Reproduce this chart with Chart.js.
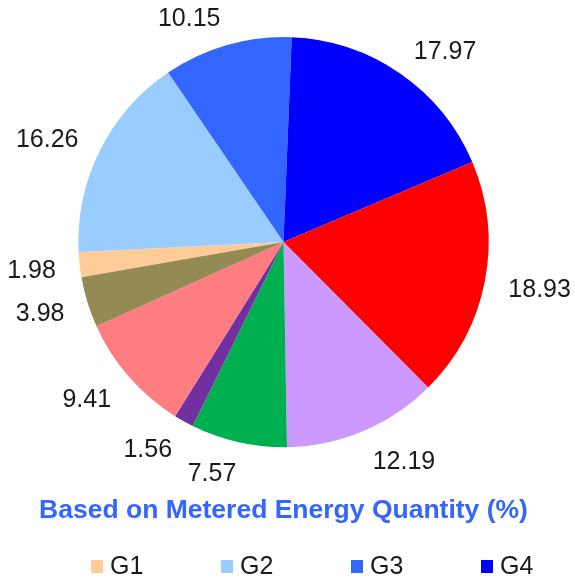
<!DOCTYPE html>
<html>
<head>
<meta charset="utf-8">
<title>Metered Energy Quantity</title>
<script src="https://cdn.jsdelivr.net/npm/chart.js@4.4.0/dist/chart.umd.min.js"></script>
<style>
  html, body { margin: 0; padding: 0; background: #fff; }
</style>
</head>
<body>
<canvas id="chart" width="575" height="586"></canvas>
<script>
const groups = ['G1', 'G2', 'G3', 'G4', 'G5', 'G6', 'G7', 'G8', 'G9', 'G10']
const energyShare = [1.98, 16.26, 10.15, 17.97, 18.93, 12.19, 7.57, 1.56, 9.41, 3.98]
const sliceColors = ['#FFCC99', '#99CCFF', '#3366FF', '#0000FF', '#FF0000', '#CC99FF', '#00B050', '#7030A0', '#FF7C80', '#948A54']
const legendGroups = ['G1', 'G2', 'G3', 'G4']
const chartTitle = 'Based on Metered Energy Quantity (%)'

const FONT = "'Liberation Sans', Arial, sans-serif"

// Value labels sit just outside each slice, pushed sideways by half their width
const outsideLabels = {
  id: 'outsideLabels',
  afterDatasetsDraw(chart) {
    const ctx = chart.ctx
    const meta = chart.getDatasetMeta(0)
    const values = chart.data.datasets[0].data
    ctx.save()
    ctx.font = `25px ${FONT}`
    ctx.fillStyle = '#1a1a1a'
    ctx.textAlign = 'center'
    ctx.textBaseline = 'middle'
    meta.data.forEach((arc, i) => {
      const { x, y, startAngle, endAngle, outerRadius } =
        arc.getProps(['x', 'y', 'startAngle', 'endAngle', 'outerRadius'], true)
      const mid = (startAngle + endAngle) / 2
      const text = values[i].toFixed(2)
      const w = ctx.measureText(text).width
      const push = Math.max(-1, Math.min(1, Math.cos(mid) * 4))
      const lx = x + (outerRadius + 24) * Math.cos(mid) + push * w / 2
      const ly = y + (outerRadius + 30) * Math.sin(mid) + 3
      ctx.fillText(text, lx, ly)
    })
    ctx.restore()
  }
}

// Legend row under the title, evenly spaced
const bottomLegend = {
  id: 'bottomLegend',
  afterDraw(chart) {
    const ctx = chart.ctx
    const colors = chart.data.datasets[0].backgroundColor
    ctx.save()
    ctx.font = `25px ${FONT}`
    ctx.textAlign = 'left'
    ctx.textBaseline = 'middle'
    legendGroups.forEach((name, i) => {
      const x = 91 + i * 130
      const y = 566
      ctx.fillStyle = colors[chart.data.labels.indexOf(name)]
      ctx.fillRect(x, y - 6, 12, 13)
      ctx.fillStyle = '#1a1a1a'
      ctx.fillText(name, x + 19, y + 1)
    })
    ctx.restore()
  }
}

new Chart(document.getElementById('chart'), {
  type: 'pie',
  data: {
    labels: groups,
    datasets: [{
      data: energyShare,
      backgroundColor: sliceColors,
      borderWidth: 0
    }]
  },
  options: {
    responsive: false,
    animation: false,
    rotation: 260.1,
    layout: {
      padding: { top: 37, left: 0, right: 8, bottom: 0 }
    },
    plugins: {
      legend: { display: false },
      tooltip: { enabled: false },
      title: {
        display: true,
        position: 'bottom',
        text: chartTitle,
        color: '#3366FF',
        font: { size: 26.5, weight: 'bold', family: FONT },
        padding: { top: 48, bottom: 59 }
      }
    }
  },
  plugins: [outsideLabels, bottomLegend]
})
</script>
</body>
</html>
